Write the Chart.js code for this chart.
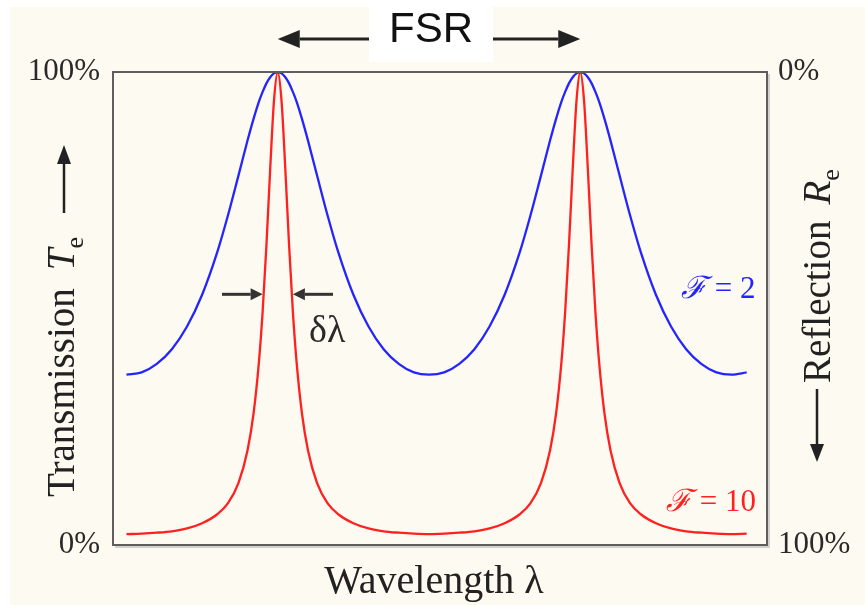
<!DOCTYPE html>
<html><head><meta charset="utf-8">
<script src="https://cdn.jsdelivr.net/npm/chart.js@4/dist/chart.umd.min.js"></script>
<style>html,body{margin:0;padding:0;background:#fff;}canvas{display:block;}</style>
</head><body>
<canvas id="c" width="865" height="605"></canvas>
<script>
// Wavelength in units of the free spectral range (peaks at 1 and 2)
const wavelength = [
  0.5,0.55,0.6,0.65,0.7,0.75,0.8,0.835,0.87,0.9,0.92,0.9375,0.95,0.9625,0.975,0.9875,1,
  1.0125,1.025,1.0375,1.05,1.0625,1.08,1.1,1.13,1.165,1.2,1.25,1.3,1.35,1.4,1.45,1.5,
  1.55,1.6,1.65,1.7,1.75,1.8,1.835,1.87,1.9,1.92,1.9375,1.95,1.9625,1.975,1.9875,2,
  2.0125,2.025,2.0375,2.05,2.0625,2.08,2.1,2.13,2.165,2.2,2.25,2.3,2.35,2.4,2.45,2.5,2.55
];
// Transmission (%) for finesse 2 (blue)
const transmissionF2 = [
  36.0,36.5,38.3,41.4,46.2,52.9,61.9,69.6,78.1,85.5,90.1,93.7,95.8,97.6,98.9,99.7,100,
  99.7,98.9,97.6,95.8,93.7,90.1,85.5,78.1,69.6,61.9,52.9,46.2,41.4,38.3,36.5,36.0,
  36.5,38.3,41.4,46.2,52.9,61.9,69.6,78.1,85.5,90.1,93.7,95.8,97.6,98.9,99.7,100,
  99.7,98.9,97.6,95.8,93.7,90.1,85.5,78.1,69.6,61.9,52.9,46.2,41.4,38.3,36.5,36.0,36.5
];
// Transmission (%) for finesse 10 (red)
const transmissionF10 = [
  2.3,2.4,2.6,2.9,3.5,4.6,6.5,8.8,13.1,20.0,27.8,38.5,49.3,63.3,79.5,93.9,100,
  93.9,79.5,63.3,49.3,38.5,27.8,20.0,13.1,8.8,6.5,4.6,3.5,2.9,2.6,2.4,2.3,
  2.4,2.6,2.9,3.5,4.6,6.5,8.8,13.1,20.0,27.8,38.5,49.3,63.3,79.5,93.9,100,
  93.9,79.5,63.3,49.3,38.5,27.8,20.0,13.1,8.8,6.5,4.6,3.5,2.9,2.6,2.4,2.3,2.4
];
const yTickValues = [0, 100];
const peakPositions = [1, 2];
const fwhmHalf = 0.05;      // half of δλ for F = 10
const fwhmLevel = 53;       // level (%) where δλ arrows sit
const xRange = [0.4554, 2.6172];

const SERIF = "'Liberation Serif','Times New Roman',serif";
const CREAM = '#fdfaf1';
const BLUE = '#2424ff';
const RED = '#ff2020';

function toPts(xs, ys){ return xs.map((x,i)=>({x:x, y:ys[i]})); }

function arrow(ctx, x1,y1,x2,y2, headLen, headW, color, lw){
  const a = Math.atan2(y2-y1, x2-x1);
  const bx = x2 - headLen*Math.cos(a), by = y2 - headLen*Math.sin(a);
  ctx.save();
  ctx.strokeStyle = color; ctx.fillStyle = color; ctx.lineWidth = lw;
  ctx.beginPath(); ctx.moveTo(x1,y1); ctx.lineTo(bx,by); ctx.stroke();
  ctx.beginPath(); ctx.moveTo(x2,y2);
  ctx.lineTo(bx + headW*Math.sin(a), by - headW*Math.cos(a));
  ctx.lineTo(bx - headW*Math.sin(a), by + headW*Math.cos(a));
  ctx.closePath(); ctx.fill();
  ctx.restore();
}
function drawRuns(ctx, list, x, y){
  let cx = x;
  for (const r of list){
    if (r.gap){ cx += r.gap; continue; }
    ctx.font = r.font;
    ctx.fillText(r.t, cx, y + (r.dy||0));
    cx += ctx.measureText(r.t).width;
  }
  return cx;
}

const decor = {
  id: 'decor',
  beforeDraw(chart){
    const ctx = chart.ctx;
    ctx.save();
    ctx.fillStyle = '#ffffff'; ctx.fillRect(0,0,chart.width,chart.height);
    ctx.fillStyle = CREAM; ctx.fillRect(10,7,chart.width-10,chart.height-7);
    ctx.restore();
  },
  afterDraw(chart){
    const ctx = chart.ctx, a = chart.chartArea;
    const xs = chart.scales.x, ys = chart.scales.y;
    ctx.save();
    // frame with light shadow
    ctx.strokeStyle = '#c4c4c4'; ctx.lineWidth = 1.5;
    ctx.beginPath(); ctx.moveTo(a.right+2, a.top+2); ctx.lineTo(a.right+2, a.bottom+2); ctx.lineTo(a.left+2, a.bottom+2); ctx.stroke();
    ctx.strokeStyle = '#5e5e5e'; ctx.lineWidth = 2;
    ctx.strokeRect(a.left, a.top, a.right-a.left, a.bottom-a.top);

    // FSR label and arrows
    ctx.fillStyle = '#ffffff'; ctx.fillRect(369, 0, 124, 62);
    const p1 = xs.getPixelForValue(peakPositions[0]);
    const p2 = xs.getPixelForValue(peakPositions[1]);
    arrow(ctx, 369, 39, p1, 39, 22, 9, '#222', 3);
    arrow(ctx, 493, 39, p2, 39, 22, 9, '#222', 3);
    ctx.fillStyle = '#111'; ctx.font = "42px 'Liberation Sans', Arial, sans-serif";
    ctx.textAlign = 'center'; ctx.textBaseline = 'alphabetic';
    ctx.fillText('FSR', 431, 42);

    // δλ arrows
    const yl = ys.getPixelForValue(fwhmLevel);
    const l = xs.getPixelForValue(peakPositions[0]-fwhmHalf);
    const r = xs.getPixelForValue(peakPositions[0]+fwhmHalf);
    arrow(ctx, 222, yl, l, yl, 12, 6, '#333', 3);
    arrow(ctx, 333, yl, r, yl, 12, 6, '#333', 3);
    ctx.fillStyle = '#2a2a2a'; ctx.font = '38px ' + SERIF; ctx.textAlign = 'left';
    ctx.fillText('δλ', 309, 342);

    // finesse labels
    ctx.textAlign = 'left';
    ctx.fillStyle = BLUE;
    drawRuns(ctx, [
      {t:'ℱ', font:"italic 31px 'DejaVu Serif', serif"},
      {t:' = 2', font:'31px ' + SERIF}
    ], 681, 298);
    ctx.fillStyle = RED;
    drawRuns(ctx, [
      {t:'ℱ', font:"italic 31px 'DejaVu Serif', serif"},
      {t:' = 10', font:'31px ' + SERIF}
    ], 666, 511);

    // x axis title
    ctx.fillStyle = '#222'; ctx.textAlign = 'center';
    ctx.font = '40px ' + SERIF;
    ctx.fillText('Wavelength λ', 434, 593);

    // left axis title (rotated)
    ctx.textAlign = 'left';
    ctx.save();
    ctx.translate(74, 497); ctx.rotate(-Math.PI/2);
    let e = drawRuns(ctx, [
      {t:'Transmission', font:'39px ' + SERIF},
      {gap: 18},
      {t:'T', font:'italic 39px ' + SERIF},
      {t:'e', font:'26px ' + SERIF, dy: 9}
    ], 0, 0);
    arrow(ctx, e + 24, -10, e + 92, -10, 19, 7, '#222', 2.5);
    ctx.restore();

    // right axis title (rotated)
    ctx.save();
    ctx.translate(830, 383); ctx.rotate(-Math.PI/2);
    drawRuns(ctx, [
      {t:'Reflection', font:'39px ' + SERIF},
      {gap: 16},
      {t:'R', font:'italic 39px ' + SERIF},
      {t:'e', font:'26px ' + SERIF, dy: 9}
    ], 0, 0);
    arrow(ctx, -6, -13, -79, -13, 18, 7, '#222', 2.5);
    ctx.restore();

    ctx.restore();
  }
};

function fixTicks(scale){ scale.ticks = yTickValues.map(v => ({value: v})); }

new Chart(document.getElementById('c'), {
  type: 'line',
  data: {
    datasets: [
      { label: 'F = 2', data: toPts(wavelength, transmissionF2), borderColor: BLUE, borderWidth: 2.3,
        pointRadius: 0, cubicInterpolationMode: 'monotone', fill: false, yAxisID: 'y' },
      { label: 'F = 10', data: toPts(wavelength, transmissionF10), borderColor: RED, borderWidth: 2.3,
        pointRadius: 0, cubicInterpolationMode: 'monotone', fill: false, yAxisID: 'y' }
    ]
  },
  options: {
    responsive: false, animation: false, devicePixelRatio: 1,
    layout: { padding: { top: 72, bottom: 60, left: 10, right: 10 } },
    plugins: { legend: { display: false }, tooltip: { enabled: false } },
    scales: {
      x: { type: 'linear', min: xRange[0], max: xRange[1], display: false },
      y: { type: 'linear', position: 'left', min: 0, max: 100,
        afterBuildTicks: fixTicks,
        afterFit: s => { s.width = 103; },
        grid: { display: false, drawTicks: false }, border: { display: false },
        ticks: { padding: 13, color: '#2a2a2a', font: { family: SERIF, size: 31 },
          callback: v => v + '%' } },
      y2: { type: 'linear', position: 'right', min: 0, max: 100, reverse: true,
        afterBuildTicks: fixTicks,
        afterFit: s => { s.width = 88; },
        grid: { display: false, drawTicks: false }, border: { display: false },
        ticks: { padding: 11, color: '#2a2a2a', font: { family: SERIF, size: 31 },
          callback: v => v + '%' } }
    }
  },
  plugins: [decor]
});
</script>
</body></html>
